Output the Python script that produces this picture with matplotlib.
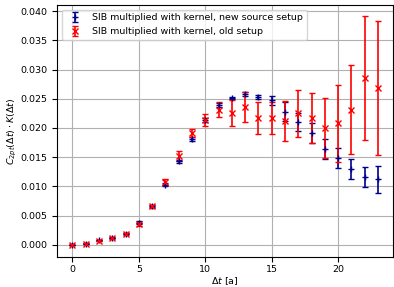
import matplotlib.pyplot as plt

dt = list(range(24))

new_vals = [0.0000, 0.0002, 0.0008, 0.0012, 0.0019, 0.0038, 0.0066, 0.0103,
            0.0143, 0.0181, 0.0214, 0.0239, 0.0251, 0.0258, 0.0253, 0.0247,
            0.0228, 0.0210, 0.0191, 0.0164, 0.0148, 0.0130, 0.0116, 0.0112]
new_errs = [0.00005, 0.00005, 0.0001, 0.0001, 0.0001, 0.0002, 0.0002, 0.0002,
            0.0003, 0.0003, 0.0003, 0.0003, 0.0002, 0.0003, 0.0004, 0.0008,
            0.0016, 0.0016, 0.0017, 0.0017, 0.0017, 0.0017, 0.0017, 0.0023]

old_vals = [0.0000, 0.0002, 0.0007, 0.0011, 0.0018, 0.0035, 0.0066, 0.0108,
            0.0152, 0.0191, 0.0214, 0.0231, 0.0225, 0.0236, 0.0217, 0.0217,
            0.0212, 0.0225, 0.0217, 0.0200, 0.0208, 0.0231, 0.0285, 0.0268]
old_errs = [0.0001, 0.0001, 0.0001, 0.0001, 0.0002, 0.0003, 0.0003, 0.0005,
            0.0009, 0.0007, 0.0010, 0.0013, 0.0022, 0.0026, 0.0027, 0.0028,
            0.0034, 0.0040, 0.0043, 0.0051, 0.0066, 0.0076, 0.0106, 0.0115]

plt.rcParams['font.size'] = 6.8

fig = plt.figure(figsize=(3.94, 2.87), dpi=100)
ax = fig.add_subplot(111)
fig.subplots_adjust(left=0.145, right=0.998, top=0.983, bottom=0.105)

ax.errorbar(dt, new_vals, yerr=new_errs, fmt='+', color='darkblue', capsize=2,
            elinewidth=1.2, markersize=5, label='SIB multiplied with kernel, new source setup')
ax.errorbar(dt, old_vals, yerr=old_errs, fmt='x', color='red', capsize=2,
            elinewidth=1.2, markersize=4, label='SIB multiplied with kernel, old setup')

ax.set_xlabel(r'$\Delta t$ [a]', labelpad=0.5)
ax.set_ylabel(r'$C_{2pt}(\Delta t) \cdot K(\Delta t)$', labelpad=1)
ax.tick_params(axis='x', pad=2.5)
ax.grid(True)
ax.legend(loc='upper left')
fig.savefig('out.png', dpi=100)
